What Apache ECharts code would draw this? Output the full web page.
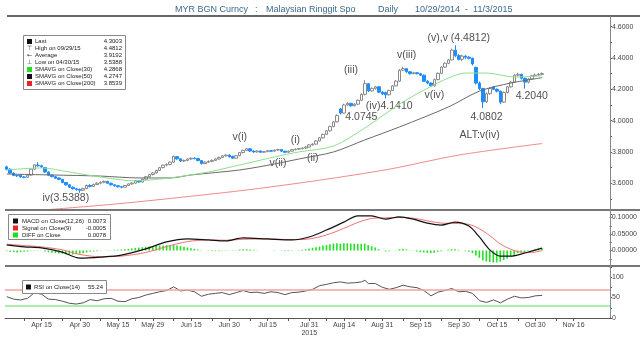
<!DOCTYPE html>
<html><head><meta charset="utf-8">
<script src="https://cdn.jsdelivr.net/npm/echarts@6/dist/echarts.min.js"></script>
<style>html,body{margin:0;padding:0;background:#fff}#c{width:640px;height:338px}</style>
</head><body><div id="c"></div>
<script>
// ---------- data ----------
const tickLabels = ['Apr 15','Apr 30','May 15','May 29','Jun 15','Jun 30','Jul 15','Jul 31','Aug 14','Aug 31','Sep 15','Sep 30','Oct 15','Oct 30','Nov 16'];
// [open, close, low, high], trading days from Apr 1 2015 to Nov 3 2015
const ohlc = [
[3.705,3.690,3.683,3.712],[3.690,3.665,3.660,3.695],[3.665,3.650,3.645,3.670],[3.650,3.648,3.640,3.656],[3.652,3.640,3.636,3.658],
[3.640,3.638,3.632,3.646],[3.638,3.652,3.634,3.656],[3.652,3.690,3.648,3.694],[3.690,3.718,3.686,3.722],[3.716,3.712,3.705,3.735],
[3.712,3.705,3.698,3.718],[3.700,3.672,3.668,3.704],[3.672,3.652,3.648,3.676],[3.652,3.642,3.638,3.656],[3.642,3.632,3.628,3.646],
[3.634,3.625,3.620,3.638],[3.625,3.605,3.600,3.628],[3.605,3.590,3.585,3.608],[3.590,3.575,3.570,3.594],[3.575,3.565,3.560,3.580],
[3.565,3.560,3.552,3.570],[3.560,3.556,3.5388,3.566],[3.556,3.566,3.550,3.572],[3.566,3.586,3.562,3.592],[3.586,3.580,3.574,3.594],
[3.580,3.592,3.576,3.598],[3.592,3.600,3.588,3.606],[3.600,3.606,3.594,3.612],[3.606,3.612,3.600,3.618],[3.612,3.600,3.596,3.616],
[3.600,3.590,3.585,3.604],[3.590,3.584,3.578,3.594],[3.584,3.578,3.572,3.588],[3.578,3.575,3.568,3.582],[3.575,3.586,3.572,3.590],
[3.586,3.596,3.582,3.600],[3.596,3.601,3.590,3.606],[3.601,3.616,3.598,3.620],[3.616,3.608,3.604,3.620],[3.608,3.626,3.605,3.630],
[3.626,3.642,3.622,3.646],[3.642,3.656,3.638,3.660],[3.656,3.666,3.650,3.672],[3.666,3.682,3.662,3.686],[3.682,3.700,3.678,3.705],
[3.700,3.716,3.696,3.720],[3.716,3.720,3.708,3.728],[3.720,3.735,3.715,3.740],[3.735,3.772,3.730,3.778],[3.770,3.756,3.750,3.774],
[3.756,3.742,3.736,3.760],[3.742,3.746,3.736,3.752],[3.746,3.755,3.740,3.760],[3.755,3.760,3.750,3.766],[3.760,3.758,3.752,3.766],
[3.758,3.745,3.740,3.762],[3.745,3.726,3.720,3.748],[3.726,3.735,3.722,3.740],[3.735,3.740,3.730,3.746],[3.740,3.746,3.735,3.752],
[3.746,3.755,3.742,3.760],[3.755,3.765,3.750,3.770],[3.765,3.775,3.760,3.780],[3.775,3.780,3.770,3.786],[3.780,3.770,3.765,3.784],
[3.772,3.760,3.755,3.776],[3.760,3.776,3.756,3.780],[3.776,3.796,3.772,3.800],[3.796,3.810,3.790,3.815],[3.810,3.820,3.805,3.826],
[3.820,3.806,3.800,3.824],[3.806,3.800,3.795,3.810],[3.800,3.806,3.796,3.810],[3.806,3.798,3.794,3.810],[3.798,3.802,3.794,3.806],
[3.802,3.808,3.798,3.812],[3.808,3.805,3.800,3.812],[3.805,3.812,3.802,3.816],[3.812,3.815,3.808,3.820],[3.815,3.805,3.800,3.818],
[3.805,3.798,3.794,3.808],[3.798,3.805,3.794,3.810],[3.805,3.815,3.802,3.818],[3.815,3.818,3.810,3.822],[3.818,3.821,3.814,3.825],
[3.821,3.825,3.817,3.830],[3.825,3.831,3.820,3.836],[3.831,3.845,3.828,3.850],[3.845,3.850,3.840,3.856],[3.850,3.870,3.846,3.875],
[3.870,3.890,3.866,3.896],[3.890,3.912,3.885,3.918],[3.912,3.935,3.908,3.940],[3.935,3.962,3.930,3.968],[3.962,3.992,3.958,3.998],
[3.992,4.032,3.988,4.040],[4.075,4.048,4.040,4.080],[4.048,4.100,4.044,4.108],[4.100,4.110,4.092,4.118],[4.110,4.095,4.088,4.114],
[4.095,4.105,4.090,4.112],[4.105,4.130,4.100,4.136],[4.130,4.168,4.125,4.175],[4.168,4.236,4.160,4.258],[4.236,4.190,4.182,4.240],
[4.190,4.206,4.184,4.212],[4.206,4.216,4.198,4.222],[4.216,4.182,4.176,4.220],[4.182,4.170,4.164,4.188],[4.180,4.165,4.141,4.184],
[4.165,4.192,4.160,4.198],[4.192,4.222,4.188,4.228],[4.222,4.252,4.218,4.258],[4.252,4.322,4.248,4.330],[4.322,4.332,4.316,4.345],
[4.332,4.312,4.305,4.336],[4.312,4.300,4.294,4.316],[4.300,4.306,4.296,4.312],[4.306,4.300,4.295,4.310],[4.300,4.290,4.284,4.305],
[4.290,4.252,4.246,4.294],[4.252,4.240,4.232,4.258],[4.240,4.222,4.214,4.244],[4.222,4.262,4.218,4.268],[4.262,4.302,4.258,4.308],
[4.302,4.342,4.298,4.348],[4.342,4.366,4.336,4.372],[4.366,4.388,4.360,4.395],[4.388,4.450,4.384,4.460],[4.450,4.415,4.405,4.4812],
[4.415,4.392,4.385,4.424],[4.392,4.412,4.380,4.420],[4.412,4.405,4.392,4.418],[4.405,4.398,4.390,4.412],[4.398,4.362,4.352,4.402],
[4.340,4.240,4.230,4.345],[4.240,4.205,4.195,4.250],[4.205,4.120,4.0802,4.210],[4.120,4.172,4.112,4.180],[4.172,4.205,4.165,4.212],
[4.215,4.200,4.195,4.222],[4.200,4.188,4.180,4.206],[4.188,4.118,4.105,4.192],[4.118,4.180,4.112,4.186],[4.180,4.216,4.174,4.222],
[4.216,4.246,4.210,4.252],[4.246,4.290,4.240,4.298],[4.290,4.296,4.282,4.306],[4.296,4.270,4.262,4.300],[4.270,4.246,4.204,4.275],
[4.246,4.266,4.238,4.272],[4.266,4.286,4.260,4.292],[4.286,4.291,4.280,4.300],[4.291,4.296,4.285,4.304],[4.296,4.3003,4.290,4.308]
];
// moving averages: [trading-day index, value]
const sma30 = [[0,3.685],[10,3.698],[18,3.672],[27,3.640],[37,3.615],[41,3.621],[47,3.634],[58,3.672],[67,3.717],[77,3.768],[84,3.800],[94,3.838],[103,3.953],[113,4.106],[120,4.195],[127,4.272],[132,4.304],[138,4.304],[146,4.278],[154,4.2868]];
const sma50 = [[0,3.659],[13,3.653],[27,3.646],[38,3.634],[47,3.634],[53,3.653],[67,3.685],[77,3.723],[84,3.755],[94,3.800],[103,3.877],[113,3.960],[127,4.087],[136,4.189],[145,4.240],[154,4.2747]];
const sma200 = [[12,3.432],[30,3.465],[50,3.510],[70,3.560],[90,3.620],[110,3.690],[130,3.780],[154,3.8539]];
// MACD panel
const macdLine = [[0,0.017],[5,0.011],[10,0.008],[16,-0.005],[21,-0.023],[27,-0.020],[33,-0.014],[40,0.005],[46,0.026],[52,0.035],[58,0.032],[63,0.029],[68,0.038],[75,0.035],[82,0.032],[87,0.041],[92,0.062],[97,0.086],[101,0.105],[105,0.105],[109,0.095],[113,0.102],[117,0.095],[121,0.083],[125,0.077],[129,0.086],[133,0.074],[136,0.041],[139,0.002],[142,-0.017],[145,-0.017],[148,-0.011],[151,-0.002],[154,0.0073]];
const signalLine = [[0,0.019],[5,0.015],[10,0.011],[16,0.002],[21,-0.012],[27,-0.019],[33,-0.017],[40,-0.006],[46,0.012],[52,0.027],[58,0.032],[63,0.031],[68,0.034],[75,0.035],[82,0.033],[87,0.035],[92,0.047],[97,0.067],[101,0.085],[105,0.097],[109,0.099],[113,0.100],[117,0.098],[121,0.090],[125,0.083],[129,0.082],[133,0.079],[136,0.066],[139,0.045],[142,0.020],[145,0.004],[148,-0.005],[151,-0.006],[154,-0.0005]];
const diffBars = [
-0.002,-0.004,-0.005,-0.006,-0.005,-0.004,-0.003,-0.001,0.001,0.001,
0.000,-0.003,-0.005,-0.007,-0.008,-0.009,-0.010,-0.011,-0.012,-0.012,
-0.011,-0.010,-0.008,-0.006,-0.004,-0.003,-0.002,-0.001,0.000,0.001,
0.001,0.002,0.002,0.003,0.004,0.005,0.006,0.008,0.009,0.010,
0.011,0.012,0.013,0.014,0.015,0.015,0.016,0.016,0.017,0.015,
0.013,0.011,0.009,0.007,0.005,0.003,0.001,0.000,-0.001,-0.002,
-0.002,-0.002,-0.001,-0.001,-0.001,-0.001,0.001,0.003,0.004,0.004,
0.003,0.002,0.001,0.000,0.000,0.000,0.000,0.001,0.000,-0.001,
-0.002,-0.002,-0.001,0.000,0.001,0.002,0.004,0.006,0.008,0.010,
0.012,0.015,0.017,0.019,0.021,0.022,0.021,0.022,0.022,0.021,
0.021,0.020,0.020,0.021,0.017,0.013,0.009,0.004,0.000,-0.003,
-0.002,0.000,0.001,0.004,0.005,0.003,0.001,-0.001,-0.003,-0.005,
-0.006,-0.007,-0.008,-0.007,-0.004,-0.002,0.000,0.002,0.004,0.004,
0.002,0.000,-0.002,-0.004,-0.008,-0.015,-0.022,-0.030,-0.033,-0.035,
-0.036,-0.036,-0.034,-0.029,-0.024,-0.019,-0.013,-0.008,-0.006,-0.005,
-0.002,0.001,0.004,0.006,0.0078];
// RSI panel
const rsiLine = [[0,52],[2,46],[4,44],[6,48],[8,62],[10,58],[12,46],[14,45],[16,41],[18,36],[20,34],[22,37],[24,45],[26,42],[28,47],[30,48],[32,41],[34,40],[36,47],[38,50],[40,56],[42,60],[44,64],[46,67],[48,76],[50,66],[52,68],[54,64],[56,53],[58,58],[60,60],[62,62],[64,57],[66,62],[68,67],[70,62],[72,63],[74,60],[76,64],[78,62],[80,57],[82,62],[84,63],[86,66],[88,70],[90,79],[92,82],[94,86],[96,88],[98,85],[100,86],[102,88],[103,92],[104,84],[106,84],[108,75],[110,70],[112,74],[114,80],[116,76],[118,74],[120,67],[122,54],[124,63],[126,67],[128,72],[130,64],[132,65],[134,60],[136,42],[138,38],[140,44],[142,37],[144,46],[146,53],[148,49],[150,50],[152,54],[154,55.24]];
// wave annotations: text, trading-day index, price level
const annoText = ['iv(3.5388)','v(i)','(i)','v(ii)','(ii)','(iii)','4.0745','(iv)4.1410','v(iii)','v(iv)','(v),v (4.4812)','4.0802','4.2040','ALT:v(iv)'];
const annoIdx  = [16.5,67.3,82.8,78,87.8,99,102,110.1,114.7,122.5,130,137.7,150.6,136.3];
const annoVal  = [3.508,3.896,3.877,3.730,3.762,4.324,4.023,4.094,4.420,4.164,4.528,4.023,4.157,3.908];
// legends
const legendMain = [['sq','#111','Last','4.3003'],['hi','#333','High on 09/29/15','4.4812'],['avg','#333','Average','3.9192'],['lo','#333','Low on 04/30/15','3.5388'],['sq','#22dd22','SMAVG on Close(30)','4.2868'],['sq','#111','SMAVG on Close(50)','4.2747'],['sq','#ee2222','SMAVG on Close(200)','3.8539']];
const legendMacd = [['#111','MACD on Close(12,26)','0.0073'],['#ee2222','Signal on Close(9)','-0.0005'],['#22dd22','DIFF on Close','0.0078']];
const legendRsi = [['#111','RSI on Close(14)','55.24']];

// ---------- chart ----------
const MONTHS=['Jan','Feb','Mar','Apr','May','Jun','Jul','Aug','Sep','Oct','Nov','Dec'];
const categories=[];
for(let d=new Date(Date.UTC(2015,3,1)); d<=new Date(Date.UTC(2015,10,30)); d.setUTCDate(d.getUTCDate()+1)){
  const w=d.getUTCDay(); if(w===0||w===6) continue;
  categories.push(MONTHS[d.getUTCMonth()]+' '+d.getUTCDate());
}
const labelIdx = tickLabels.map(t=>categories.indexOf(t));
const tickIdx = new Set(labelIdx);
for(let i=0;i<labelIdx.length-1;i++) tickIdx.add(Math.round((labelIdx[i]+labelIdx[i+1])/2));
tickIdx.add(Math.round(labelIdx[0]-(labelIdx[1]-labelIdx[0])/2));

const FONT='Liberation Sans';
const L=5, W=605;
const axLab={fontSize:7,color:'#444',fontFamily:FONT,margin:2};
function yAx(gi,min,max,interval,fmt){
  return {type:'value',gridIndex:gi,position:'right',min,max,interval,
    axisLine:{show:false},splitLine:{show:false},
    axisTick:{show:true,length:2,lineStyle:{color:'#555'}},
    axisLabel:Object.assign({},axLab,{formatter:fmt})};
}
function xAx(gi,show){
  return {type:'category',gridIndex:gi,data:categories,boundaryGap:true,show:show,
    axisLine:{show:true,lineStyle:{color:'#555',width:1}},
    axisTick:{show:true,alignWithLabel:true,length:3,lineStyle:{color:'#555'},interval:(i)=>tickIdx.has(i)},
    axisLabel:{fontSize:7,color:'#444',fontFamily:FONT,margin:3,lineHeight:8,
      interval:(i,v)=>tickLabels.includes(v),
      formatter:(v)=> v==='Jul 31' ? 'Jul 31\n2015' : v},
    splitLine:{show:false}};
}
const near=(v,s)=>Math.abs(v/s-Math.round(v/s))<1e-6;

const graphics=[];
// title
const tcol='#3a6a8c';
[['MYR BGN Curncy',175],[':',255],['Malaysian Ringgit Spo',266],['Daily',378],['10/29/2014  -  11/3/2015',415]].forEach(([t,x])=>{
  graphics.push({type:'text',left:x,top:5,style:{text:t,fill:tcol,font:'9px '+FONT}});
});
graphics.push({type:'rect',shape:{x:596,y:0,width:44,height:15},style:{fill:'#fff'},z:100});
// panel lines
graphics.push({type:'line',shape:{x1:7,y1:16,x2:640,y2:16},style:{stroke:'#666',lineWidth:2},z:50});
graphics.push({type:'line',shape:{x1:5,y1:210,x2:640,y2:210},style:{stroke:'#777',lineWidth:2},z:50});
graphics.push({type:'line',shape:{x1:5,y1:266,x2:640,y2:266},style:{stroke:'#777',lineWidth:2},z:50});
graphics.push({type:'line',shape:{x1:610.5,y1:16,x2:610.5,y2:318},style:{stroke:'#888',lineWidth:1},z:50});
// legend boxes
function legendBox(x,y,w,h){graphics.push({type:'rect',shape:{x,y,width:w,height:h},style:{fill:'#fff',stroke:'#888',lineWidth:1},z:60});}
const lf='6px '+FONT;
legendBox(23.5,35.5,102,54);
legendMain.forEach((r,i)=>{
  const cy=41.5+i*7;
  if(r[0]==='sq') graphics.push({type:'rect',shape:{x:27,y:cy-2.5,width:5,height:5},style:{fill:r[1]},z:61});
  else graphics.push({type:'text',x:29.5,y:cy,style:{text:r[0]==='hi'?'\u22A4':(r[0]==='lo'?'\u22A5':'\u2190'),fill:r[1],font:'6px DejaVu Sans',textAlign:'center',textVerticalAlign:'middle'},z:61});
  graphics.push({type:'text',x:35,y:cy,style:{text:r[2],fill:'#222',font:lf,textVerticalAlign:'middle'},z:61});
  graphics.push({type:'text',x:122,y:cy,style:{text:r[3],fill:'#222',font:lf,textAlign:'right',textVerticalAlign:'middle'},z:61});
});
legendBox(8.5,214.5,102,25);
legendMacd.forEach((r,i)=>{
  const cy=221+i*7;
  graphics.push({type:'rect',shape:{x:13,y:cy-2.5,width:5,height:5},style:{fill:r[0]},z:61});
  graphics.push({type:'text',x:22,y:cy,style:{text:r[1],fill:'#222',font:lf,textVerticalAlign:'middle'},z:61});
  graphics.push({type:'text',x:106,y:cy,style:{text:r[2],fill:'#222',font:lf,textAlign:'right',textVerticalAlign:'middle'},z:61});
});
legendBox(22.5,280.5,84,13);
legendRsi.forEach((r,i)=>{
  const cy=287;
  graphics.push({type:'rect',shape:{x:26,y:cy-2.5,width:5,height:5},style:{fill:r[0]},z:61});
  graphics.push({type:'text',x:34,y:cy,style:{text:r[1],fill:'#222',font:lf,textVerticalAlign:'middle'},z:61});
  graphics.push({type:'text',x:103,y:cy,style:{text:r[2],fill:'#222',font:lf,textAlign:'right',textVerticalAlign:'middle'},z:61});
});

const option={
  animation:false,
  backgroundColor:'#fff',
  grid:[
    {left:L,width:W,top:11,height:203.6},
    {left:L,width:W,top:209.25,height:57.75},
    {left:L,width:W,top:266.75,height:51.25}
  ],
  xAxis:[xAx(0,false),xAx(1,false),xAx(2,true)],
  yAxis:[
    yAx(0,3.4,4.7,0.1,v=>(near(v,0.2)&&v>3.55&&v<4.65)?v.toFixed(4):''),
    yAx(1,-0.05,0.125,0.025,v=>(near(v,0.05)&&v>-0.01&&v<0.11)?v.toFixed(5):''),
    yAx(2,0,125,25,v=>(near(v,50)&&v<=100)?String(v):'')
  ],
  graphic:graphics,
  series:[
    {type:'candlestick',xAxisIndex:0,yAxisIndex:0,data:ohlc,barWidth:3,
      itemStyle:{color:'#ffffff',color0:'#1e8cff',borderColor:'#8a8a8a',borderColor0:'#1e8cff',borderWidth:1}},
    {type:'line',xAxisIndex:0,yAxisIndex:0,data:sma200,showSymbol:false,smooth:0.3,lineStyle:{color:'#f08a8a',width:1}},
    {type:'line',xAxisIndex:0,yAxisIndex:0,data:sma50,showSymbol:false,smooth:0.3,lineStyle:{color:'#6a6a6a',width:1}},
    {type:'line',xAxisIndex:0,yAxisIndex:0,data:sma30,showSymbol:false,smooth:0.3,lineStyle:{color:'#8ee08e',width:1}},
    {type:'scatter',xAxisIndex:0,yAxisIndex:0,symbolSize:0,silent:true,
      data:annoText.map((t,i)=>({value:[annoIdx[i],annoVal[i]],name:t})),
      label:{show:true,position:'inside',formatter:'{b}',fontSize:10.5,color:'#222',fontFamily:FONT}},
    {type:'bar',xAxisIndex:1,yAxisIndex:1,data:diffBars,barWidth:1.6,itemStyle:{color:'#22e022'}},
    {type:'line',xAxisIndex:1,yAxisIndex:1,data:signalLine,showSymbol:false,smooth:0.3,lineStyle:{color:'#f07070',width:1}},
    {type:'line',xAxisIndex:1,yAxisIndex:1,data:macdLine,showSymbol:false,smooth:0.3,lineStyle:{color:'#111',width:1.2}},
    {type:'line',xAxisIndex:2,yAxisIndex:2,data:rsiLine,showSymbol:false,lineStyle:{color:'#555',width:1},
      markLine:{silent:true,symbol:'none',label:{show:false},
        data:[{yAxis:70,lineStyle:{color:'#f4a0a0',width:1.5,type:'solid'}},{yAxis:30,lineStyle:{color:'#8fe88f',width:1.5,type:'solid'}}]}}
  ]
};
const chart=echarts.init(document.getElementById('c'));
chart.setOption(option);
</script></body></html>
